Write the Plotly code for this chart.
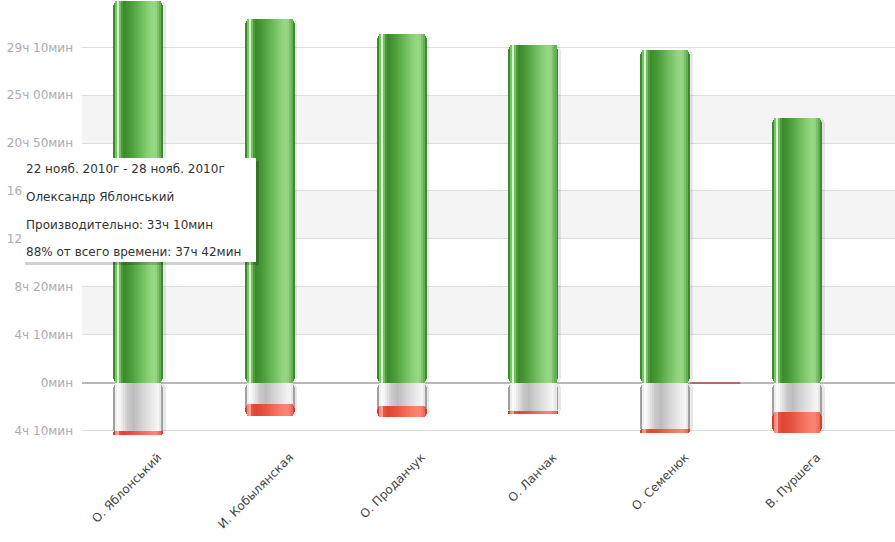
import plotly.graph_objects as go

# ---------------- data (minutes) ----------------
names = ["О. Яблонський", "И. Кобылянская", "О. Проданчук", "О. Ланчак", "О. Семенюк", "В. Пуршега"]
productive = [1990, 1897, 1818, 1761, 1736, 1380]
neutral = [252, 114, 121, 149, 243, 152]
unproductive = [20, 59, 57, 14, 19, 113]

tick_vals = [-250, 0, 250, 500, 750, 1000, 1250, 1500, 1750]
tick_text = ["4ч 10мин", "0мин", "4ч 10мин", "8ч 20мин", "12ч 30мин",
             "16ч 40мин", "20ч 50мин", "25ч 00мин", "29ч 10мин"]
band_ranges = [(250, 500), (750, 1000), (1250, 1500)]

tooltip_lines = ["22 нояб. 2010г - 28 нояб. 2010г",
                 "Олександр Яблонський",
                 "Производительно: 33ч 10мин",
                 "88% от всего времени: 37ч 42мин"]

# ---------------- styling ----------------
W, H = 895, 542
L, T, PH = 82, 0, 440
PW = W - L
BAR_W = 0.38

green_stops = [(0.0, "#3c8a2e"), (0.06, "#7cc46a"), (0.10, "#daf6cb"), (0.14, "#72c160"),
               (0.20, "#3a882b"), (0.35, "#4a9a38"), (0.55, "#6cba5a"), (0.75, "#92d480"),
               (0.85, "#97d785"), (0.93, "#6db55c"), (1.0, "#3f8d30")]
grey_stops = [(0.0, "#a0a0a0"), (0.04, "#dcdcdc"), (0.08, "#ffffff"), (0.16, "#f0f0f0"),
              (0.30, "#c9c9c9"), (0.42, "#bdbdbd"), (0.60, "#d6d6d6"), (0.80, "#ececec"),
              (0.92, "#f7f7f7"), (0.97, "#cfcfcf"), (1.0, "#a8a8a8")]
red_stops = [(0.0, "#c9412f"), (0.05, "#f08070"), (0.09, "#ffb5a5"), (0.14, "#e8543f"),
             (0.22, "#dc4632"), (0.45, "#eb5a47"), (0.70, "#f77a68"), (0.85, "#fb8776"),
             (0.94, "#f06a5a"), (1.0, "#cc4534")]


def hex2rgb(h):
    h = h.lstrip("#")
    return [int(h[i:i + 2], 16) for i in (0, 2, 4)]


def color_at(stops, t):
    for (t0, c0), (t1, c1) in zip(stops[:-1], stops[1:]):
        if t0 <= t <= t1:
            f = (t - t0) / (t1 - t0) if t1 > t0 else 0
            a, b = hex2rgb(c0), hex2rgb(c1)
            return "rgb(%d,%d,%d)" % tuple(round(a[i] + (b[i] - a[i]) * f) for i in range(3))
    return stops[-1][1]


def make_stripes(stops, start=0.04, end=0.96, step=0.04):
    out = []
    s = start
    while s < end - 1e-9:
        e = min(s + step, end)
        out.append((s, e + 0.004, color_at(stops, (s + e) / 2)))
        s = e
    return out


x = list(range(len(names)))
fig = go.Figure()


def add_bar(y, base, color, width=BAR_W, offset=None, radius=0):
    fig.add_trace(go.Bar(
        x=x, y=y, base=base, width=width,
        offset=(-BAR_W / 2 if offset is None else offset),
        marker=dict(color=color, line=dict(width=0), cornerradius=radius),
        hoverinfo="skip", showlegend=False))


def add_gradient(y, base, stops, full_y=None, radius=6):
    add_bar(full_y if full_y is not None else y, base, stops[0][1], radius=radius)
    for s, e, c in make_stripes(stops):
        add_bar(y, base, c, width=BAR_W * (e - s), offset=-BAR_W / 2 + BAR_W * s)


zero = [0] * len(x)
totals_neg = [-(g + r) for g, r in zip(neutral, unproductive)]
# soft shadows (right side)
add_bar(productive, zero, "rgba(0,0,0,0.09)", offset=-BAR_W / 2 + 0.02, radius=6)
add_bar(totals_neg, zero, "rgba(0,0,0,0.09)", offset=-BAR_W / 2 + 0.02, radius=6)

# productive (green, up)
add_gradient(productive, zero, green_stops)
# neutral (grey, down) - base extends under red so corners match
add_gradient([-g for g in neutral], zero, grey_stops, full_y=totals_neg)
# unproductive (red, below grey)
add_gradient([-r for r in unproductive], [-g for g in neutral], red_stops)

shapes = []
for y0, y1 in band_ranges:
    shapes.append(dict(type="rect", xref="paper", yref="y", x0=0, x1=1, y0=y0, y1=y1,
                       fillcolor="#f4f4f4", line=dict(width=0), layer="below"))

# small stray line next to the 5th bar at zero
shapes.append(dict(type="line", xref="x", yref="y", x0=4.19, x1=4.57, y0=-2, y1=-2,
                   line=dict(color="#b5524a", width=1.5), layer="above"))


def px_x(p):
    return (p - L) / PW


def px_y(p):
    return (PH - (p - T)) / PH


# tooltip box
tx0, tx1, ty0, ty1 = 22, 256, 158, 262
shapes.append(dict(type="rect", xref="paper", yref="paper",
                   x0=px_x(tx0 + 3), x1=px_x(tx1 + 3), y0=px_y(ty1 + 3), y1=px_y(ty0 + 3),
                   fillcolor="rgba(0,0,0,0.18)", line=dict(width=0), layer="above"))
shapes.append(dict(type="rect", xref="paper", yref="paper",
                   x0=px_x(tx0), x1=px_x(tx1), y0=px_y(ty1), y1=px_y(ty0),
                   fillcolor="white", line=dict(width=0), layer="above"))

annotations = []
for i, line in enumerate(tooltip_lines):
    annotations.append(dict(text=line, xref="paper", yref="paper",
                            x=px_x(24), y=px_y(169 + i * 27.8), xanchor="left", yanchor="middle",
                            showarrow=False, font=dict(family="DejaVu Sans", size=12, color="#333333")))

fig.update_layout(
    width=W, height=H,
    margin=dict(l=L, r=0, t=T, b=H - PH - T, pad=0),
    paper_bgcolor="white", plot_bgcolor="white",
    barmode="overlay", bargap=0,
    font=dict(family="DejaVu Sans", size=12),
    shapes=shapes, annotations=annotations,
    xaxis=dict(range=[-0.425, 5.744], tickmode="array", tickvals=x, ticktext=names,
               tickangle=-45, tickfont=dict(color="#444444", size=12), showgrid=False,
               zeroline=False, showline=False, ticks="", automargin=False,
               ticklabelstandoff=7, ticklabelshift=20),
    yaxis=dict(range=[-300, 1997], tickmode="array", tickvals=tick_vals, ticktext=tick_text,
               tickfont=dict(color="#ababab", size=12), showgrid=True, gridcolor="#dedede",
               gridwidth=1, zeroline=True, zerolinecolor="#b8b8b8", zerolinewidth=1.5,
               showline=False, ticks="", ticklabelstandoff=8, automargin=False),
)

fig.write_html("out.html", config={"displayModeBar": False},
               post_script="document.body.style.margin='0px';document.body.style.overflow='hidden';")
